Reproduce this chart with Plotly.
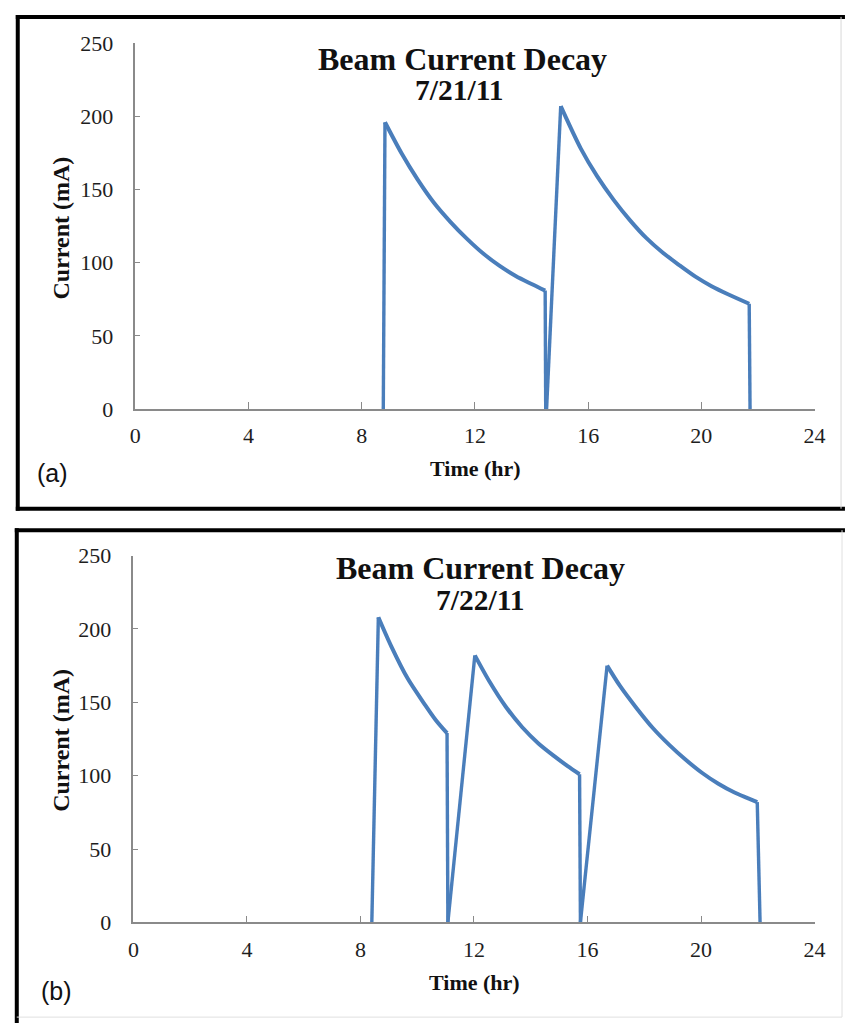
import plotly.graph_objects as go

# ---------------- data ----------------
time_a = [8.76, 8.82, 9.40, 9.97, 10.55, 11.13, 11.71, 12.28, 12.86, 13.44, 14.00, 14.48,
          14.50, 14.53, 15.03, 15.74, 16.32, 16.90, 17.48, 18.05, 18.63, 19.21, 19.79,
          20.36, 20.94, 21.69, 21.72]
current_a = [0, 196, 175, 157, 141, 128, 116.5, 106.5, 98, 91, 85.5, 81,
             0, 0, 207, 178, 159, 143, 129, 117, 107, 98.5, 90.5,
             84, 78.5, 72, 0]

time_b = [8.40, 8.63, 9.09, 9.67, 10.25, 10.65, 11.05, 11.08, 12.03, 12.55, 13.12, 13.70,
          14.27, 14.85, 15.30, 15.72, 15.75, 16.69, 17.15, 17.73, 18.30, 18.88, 19.45,
          20.03, 20.61, 21.18, 21.60, 21.98, 22.08]
current_b = [0, 208, 188, 166, 149, 138, 129, 0, 182, 164, 147, 133,
             122, 113, 106.5, 101, 0, 175, 161, 146, 132.5, 121, 111,
             102, 94.5, 88.5, 85, 82, 0]

x_ticks = [0, 4, 8, 12, 16, 20, 24]
y_ticks = [0, 50, 100, 150, 200, 250]
titles = ["Beam Current Decay", "Beam Current Decay"]
dates = ["7/21/11", "7/22/11"]
panel_tags = ["(a)", "(b)"]
x_title = "Time (hr)"
y_title = "Current (mA)"

# ---------------- layout helpers ----------------
W, H = 854, 1034


def px(x):
    return x / W


def py(y):
    return 1 - y / H


SERIF = "Liberation Serif, Times New Roman, serif"
SANS = "Liberation Sans, Arial, sans-serif"
LINE_COLOR = "#4A7EBB"
AXIS_COLOR = "#8a8a8a"
LW = 4

fig = go.Figure()


def add_series(t, v, xa, ya):
    # straight jumps (beam dumps / refills) drawn linearly
    jx, jy = [], []
    # decay curves drawn smoothly
    runs = []
    cur = None
    for i in range(len(t) - 1):
        if v[i] != 0 and v[i + 1] != 0:
            if cur is None:
                cur = ([t[i]], [v[i]])
            cur[0].append(t[i + 1])
            cur[1].append(v[i + 1])
        else:
            if cur is not None:
                runs.append(cur)
                cur = None
            jx += [t[i], t[i + 1], None]
            jy += [v[i], v[i + 1], None]
    if cur is not None:
        runs.append(cur)
    fig.add_trace(go.Scatter(x=jx, y=jy, mode="lines", connectgaps=False,
                             line=dict(color=LINE_COLOR, width=LW - 0.6),
                             xaxis=xa, yaxis=ya, showlegend=False))
    for rx, ry in runs:
        fig.add_trace(go.Scatter(x=rx, y=ry, mode="lines",
                                 line=dict(color=LINE_COLOR, width=LW,
                                           shape="spline", smoothing=0.8),
                                 xaxis=xa, yaxis=ya, showlegend=False))


add_series(time_a, current_a, "x", "y")
add_series(time_b, current_b, "x2", "y2")

common_x = dict(range=[0, 24], tickvals=x_ticks, ticks="inside", ticklen=7,
                tickcolor=AXIS_COLOR, tickwidth=1.2, showline=True,
                linecolor=AXIS_COLOR, linewidth=1.6, showgrid=False,
                zeroline=False, fixedrange=True, ticklabelstandoff=6,
                tickfont=dict(family=SERIF, size=22, color="#1e1e1e"))
common_y = dict(range=[0, 250], tickvals=y_ticks, ticks="inside", ticklen=5,
                tickcolor=AXIS_COLOR, tickwidth=1.2, showline=True,
                linecolor=AXIS_COLOR, linewidth=1.6, showgrid=False,
                zeroline=False, fixedrange=True, ticklabelstandoff=16,
                tickfont=dict(family=SERIF, size=22, color="#1e1e1e"))

fig.update_layout(
    width=W, height=H,
    margin=dict(l=0, r=0, t=0, b=0),
    paper_bgcolor="white", plot_bgcolor="white",
    xaxis=dict(domain=[px(132), px(825)], anchor="y", **common_x),
    yaxis=dict(domain=[py(407), py(32)], anchor="x", **common_y),
    xaxis2=dict(domain=[px(130), px(825)], anchor="y2", **common_x),
    yaxis2=dict(domain=[py(933), py(557)], anchor="x2", **common_y),
)

annotations = []


def add_text(text, x, y, size, bold=True, family=SERIF, angle=0):
    annotations.append(dict(
        text=text, x=px(x), y=py(y), xref="paper", yref="paper",
        xanchor="center", yanchor="middle", showarrow=False, textangle=angle,
        font=dict(family=family, size=size, color="#111111",
                  weight="bold" if bold else "normal")))


# panel (a)
add_text(titles[0], 466, 48, 32)
add_text(dates[0], 463, 80, 29.5)
add_text(y_title, 56, 221, 24, angle=-90)
add_text(x_title, 479, 468, 22)
add_text(panel_tags[0], 47, 472, 25, bold=False, family=SANS)

# panel (b)
add_text(titles[1], 484, 570, 32)
add_text(dates[1], 484, 603, 29.5)
add_text(y_title, 56, 746, 24, angle=-90)
add_text(x_title, 478, 995, 22)
add_text(panel_tags[1], 52, 1003, 25, bold=False, family=SANS)

fig.update_layout(annotations=annotations)

# panel borders
shapes = []


def seg(x0, y0, x1, y1, color="black", width=4):
    shapes.append(dict(type="line", xref="paper", yref="paper",
                       x0=px(x0), y0=py(y0), x1=px(x1), y1=py(y1),
                       line=dict(color=color, width=width)))


# panel (a): thick top, left, bottom
seg(10, 5, 856, 5)
seg(12, 3, 12, 511)
seg(10, 509, 856, 509)
seg(852, 5, 852, 509, color="#d8d8d8", width=1)
# panel (b): thick top and left, thin right and bottom
seg(9, 531, 856, 531)
seg(11, 529, 11, 1036)
seg(853, 531, 853, 1030, color="#e0e0e0", width=1)
seg(11, 1030, 853, 1030, color="#e0e0e0", width=1)

fig.update_layout(shapes=shapes)

fig.write_html("out.html")
